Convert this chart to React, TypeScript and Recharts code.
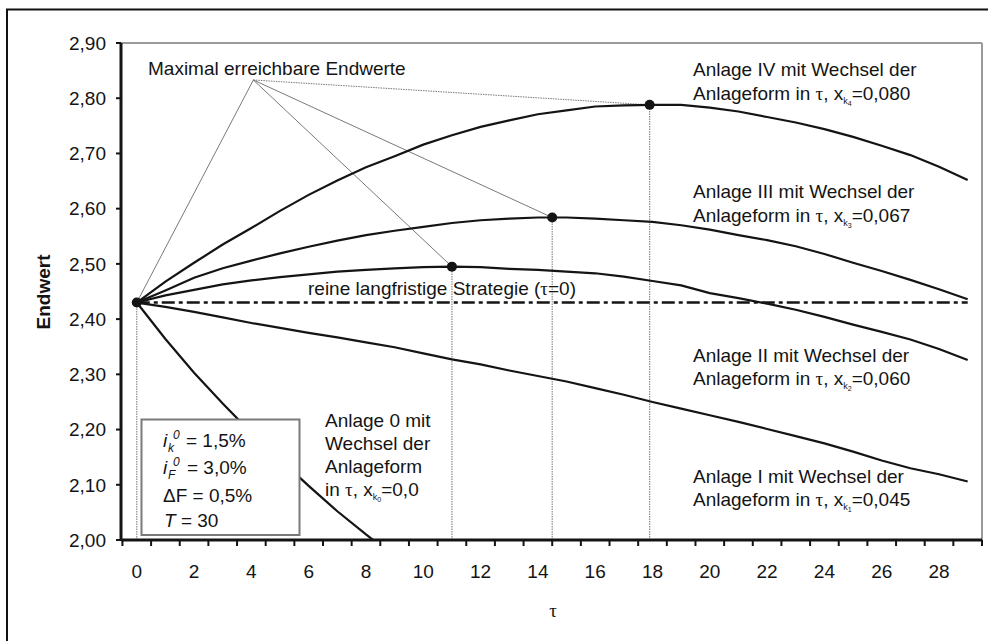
import { LineChart, Line, XAxis, YAxis, ReferenceLine, ReferenceDot } from "recharts";

// Zeitpunkt des Wechsels der Anlageform (τ)
const tau = [0, 1, 2, 3, 4, 5, 6, 7, 8, 9, 10, 11, 12, 13, 14, 15, 16, 17, 18, 19, 20, 21, 22, 23, 24, 25, 26, 27, 28, 29];

// Endwerte je Anlage
const anlage0 = [2.430, 2.364, 2.303, 2.247, 2.194, 2.146, 2.098, 2.052, 2.010, 1.970, null, null, null, null, null, null, null, null, null, null, null, null, null, null, null, null, null, null, null, null];
const anlage1 = [2.430, 2.422, 2.413, 2.403, 2.393, 2.384, 2.375, 2.367, 2.358, 2.349, 2.338, 2.327, 2.318, 2.307, 2.297, 2.287, 2.275, 2.263, 2.250, 2.238, 2.226, 2.214, 2.201, 2.188, 2.175, 2.160, 2.144, 2.130, 2.119, 2.106];
const anlage2 = [2.430, 2.443, 2.453, 2.463, 2.470, 2.476, 2.481, 2.486, 2.489, 2.492, 2.494, 2.495, 2.494, 2.491, 2.489, 2.486, 2.483, 2.477, 2.469, 2.461, 2.447, 2.438, 2.428, 2.417, 2.404, 2.390, 2.377, 2.363, 2.346, 2.326];
const anlage3 = [2.430, 2.452, 2.475, 2.492, 2.506, 2.519, 2.531, 2.542, 2.552, 2.560, 2.567, 2.574, 2.579, 2.582, 2.584, 2.584, 2.582, 2.579, 2.576, 2.570, 2.562, 2.552, 2.543, 2.532, 2.518, 2.502, 2.487, 2.471, 2.454, 2.436];
const anlage4 = [2.430, 2.468, 2.502, 2.535, 2.565, 2.596, 2.625, 2.651, 2.675, 2.695, 2.716, 2.733, 2.748, 2.760, 2.771, 2.778, 2.785, 2.787, 2.788, 2.788, 2.783, 2.776, 2.766, 2.756, 2.744, 2.730, 2.714, 2.697, 2.676, 2.652];

// reine langfristige Strategie (τ=0)
const langfristig = 2.43;

// maximal erreichbare Endwerte (Anlage II, III, IV)
const maxTau = [11, 14.5, 17.9];
const maxWert = [2.495, 2.584, 2.788];

// Sammelpunkt der Hinweislinien
const hinweisTau = 4.07;
const hinweisWert = 2.833;

const yTicks = [2.0, 2.1, 2.2, 2.3, 2.4, 2.5, 2.6, 2.7, 2.8, 2.9];
const xTickPos = [-0.5, 0.5, 1.5, 2.5, 3.5, 4.5, 5.5, 6.5, 7.5, 8.5, 9.5, 10.5, 11.5, 12.5, 13.5, 14.5, 15.5, 16.5, 17.5, 18.5, 19.5, 20.5, 21.5, 22.5, 23.5, 24.5, 25.5, 26.5, 27.5, 28.5, 29.5];

const rows = tau.map((t, i) => ({
  tau: t,
  a0: anlage0[i],
  a1: anlage1[i],
  a2: anlage2[i],
  a3: anlage3[i],
  a4: anlage4[i],
}));

const X_MIN = -0.55;
const X_MAX = 29.5;
const PLOT_LEFT = 121;
const PLOT_RIGHT = 982;
const HALF = (PLOT_RIGHT - PLOT_LEFT) / (X_MAX - X_MIN) / 2;

const SANS = "Arial, 'Liberation Sans', sans-serif";
const SERIF = "'Liberation Serif', 'Times New Roman', serif";
const INK = "#141414";

const XTick = ({ x, y, payload }: any) => {
  const k = payload.value - 0.5;
  if (k < 0 || k % 2 !== 0) return <g />;
  return (
    <text x={x - HALF} y={y + 30} textAnchor="middle" fontSize={19} fontFamily={SANS} fill={INK}>
      {k}
    </text>
  );
};

const fmt = (v: number) => v.toFixed(2).replace(".", ",");

const Tau = () => <tspan fontFamily={SERIF}>τ</tspan>;

const SubX = ({ idx, val }: { idx: string; val: string }) => (
  <>
    x<tspan fontSize={9} dy={4}>k</tspan>
    <tspan fontSize={7} dy={2}>{idx}</tspan>
    <tspan dy={-6}>{val}</tspan>
  </>
);

const Annotations = () => (
  <svg
    width={988}
    height={641}
    style={{ position: "absolute", left: 0, top: 0, pointerEvents: "none" }}
    fontFamily={SANS}
    fontSize={19}
    fill={INK}
  >
    <rect x={7} y={9.5} width={1000} height={700} fill="none" stroke="#111" strokeWidth={2} />

    <text x={43} y={292} transform="rotate(-90 43 292)" textAnchor="middle" dominantBaseline="central" fontWeight="bold">
      Endwert
    </text>
    <text x={553} y={617} textAnchor="middle" fontFamily={SERIF}>τ</text>

    <text x={148} y={75}>Maximal erreichbare Endwerte</text>
    <text x={308} y={295}>
      reine langfristige Strategie (<Tau />=0)
    </text>

    <text x={693} y={76}>Anlage IV mit Wechsel der</text>
    <text x={693} y={99.5}>
      Anlageform in <Tau />, <SubX idx="4" val="=0,080" />
    </text>

    <text x={693} y={198}>Anlage III mit Wechsel der</text>
    <text x={693} y={221.5}>
      Anlageform in <Tau />, <SubX idx="3" val="=0,067" />
    </text>

    <text x={693} y={362}>Anlage II mit Wechsel der</text>
    <text x={693} y={385}>
      Anlageform in <Tau />, <SubX idx="2" val="=0,060" />
    </text>

    <text x={693} y={483}>Anlage I mit Wechsel der</text>
    <text x={693} y={506}>
      Anlageform in <Tau />, <SubX idx="1" val="=0,045" />
    </text>

    <text x={325} y={427}>Anlage 0 mit</text>
    <text x={325} y={450}>Wechsel der</text>
    <text x={325} y={473}>Anlageform</text>
    <text x={325} y={496}>
      in <Tau />, <SubX idx="0" val="=0,0" />
    </text>

    {/* Parameterkasten */}
    <rect x={141.5} y={419.5} width={158} height={115.5} fill="#fff" stroke="#7a7a7a" strokeWidth={2} />
    <text y={446.5}>
      <tspan x={163} fontStyle="italic">i</tspan>
      <tspan x={168} dy={5} fontSize={12} fontStyle="italic">k</tspan>
      <tspan x={173} dy={-13} fontSize={12} fontStyle="italic">0</tspan>
      <tspan x={186} dy={8}>= 1,5%</tspan>
    </text>
    <text y={473.5}>
      <tspan x={163} fontStyle="italic">i</tspan>
      <tspan x={168} dy={5} fontSize={12} fontStyle="italic">F</tspan>
      <tspan x={173} dy={-13} fontSize={12} fontStyle="italic">0</tspan>
      <tspan x={187} dy={8}>= 3,0%</tspan>
    </text>
    <text x={163} y={501.5}>ΔF = 0,5%</text>
    <text y={527}>
      <tspan x={164} fontStyle="italic">T</tspan>
      <tspan> = 30</tspan>
    </text>
  </svg>
);

const App = () => {
  const pointer = [{ x: 0, y: langfristig }].concat(maxTau.map((t, i) => ({ x: t, y: maxWert[i] })));
  return (
    <div style={{ position: "absolute", left: 0, top: 0, width: 988, height: 641, background: "#fff" }}>
      <LineChart width={988} height={641} data={rows} margin={{ top: 43, right: 6, bottom: 41, left: 0 }}>
        <XAxis
          dataKey="tau"
          type="number"
          domain={[X_MIN, X_MAX]}
          ticks={xTickPos}
          interval={0}
          allowDataOverflow
          height={60}
          tickSize={6}
          tick={<XTick />}
          axisLine={{ stroke: INK, strokeWidth: 3 }}
          tickLine={{ stroke: INK, strokeWidth: 2 }}
        />
        <YAxis
          type="number"
          domain={[2, 2.9]}
          ticks={yTicks}
          interval={0}
          allowDataOverflow
          width={121}
          tickSize={5}
          tickMargin={10}
          tickFormatter={fmt}
          tick={{ fontSize: 19, fontFamily: SANS, fill: INK }}
          axisLine={{ stroke: INK, strokeWidth: 3 }}
          tickLine={{ stroke: INK, strokeWidth: 2 }}
        />

        {/* Rahmen der Zeichenfläche oben und rechts */}
        <ReferenceLine y={2.9} stroke="#9a9a9a" strokeWidth={2} ifOverflow="visible" />
        <ReferenceLine x={X_MAX} stroke="#9a9a9a" strokeWidth={2} ifOverflow="visible" />

        {/* senkrechte Hilfslinien zu den Maxima */}
        {pointer.map((p, i) => (
          <ReferenceLine
            key={`v-${i}`}
            segment={[{ x: p.x, y: 2 }, { x: p.x, y: p.y }]}
            stroke="#8c8c8c"
            strokeWidth={1.2}
            strokeDasharray="1.5 1"
          />
        ))}

        {/* Hinweislinien "Maximal erreichbare Endwerte" */}
        {pointer.map((p, i) => (
          <ReferenceLine
            key={`h-${i}`}
            segment={[{ x: hinweisTau, y: hinweisWert }, { x: p.x, y: p.y }]}
            stroke="#6a6a6a"
            strokeWidth={0.9}
            strokeDasharray={i === 3 ? "1.5 1" : undefined}
          />
        ))}

        <ReferenceLine
          segment={[{ x: 0, y: langfristig }, { x: 29, y: langfristig }]}
          stroke={INK}
          strokeWidth={2.5}
          strokeDasharray="13 4 4 4"
        />

        <Line dataKey="a0" stroke={INK} strokeWidth={2.2} dot={false} isAnimationActive={false} />
        <Line dataKey="a1" stroke={INK} strokeWidth={2.2} dot={false} isAnimationActive={false} />
        <Line dataKey="a2" stroke={INK} strokeWidth={2.2} dot={false} isAnimationActive={false} />
        <Line dataKey="a3" stroke={INK} strokeWidth={2.2} dot={false} isAnimationActive={false} />
        <Line dataKey="a4" stroke={INK} strokeWidth={2.2} dot={false} isAnimationActive={false} />

        {pointer.map((p, i) => (
          <ReferenceDot key={`d-${i}`} x={p.x} y={p.y} r={5} fill={INK} stroke="none" />
        ))}
      </LineChart>
      <Annotations />
    </div>
  );
};

export default App;
